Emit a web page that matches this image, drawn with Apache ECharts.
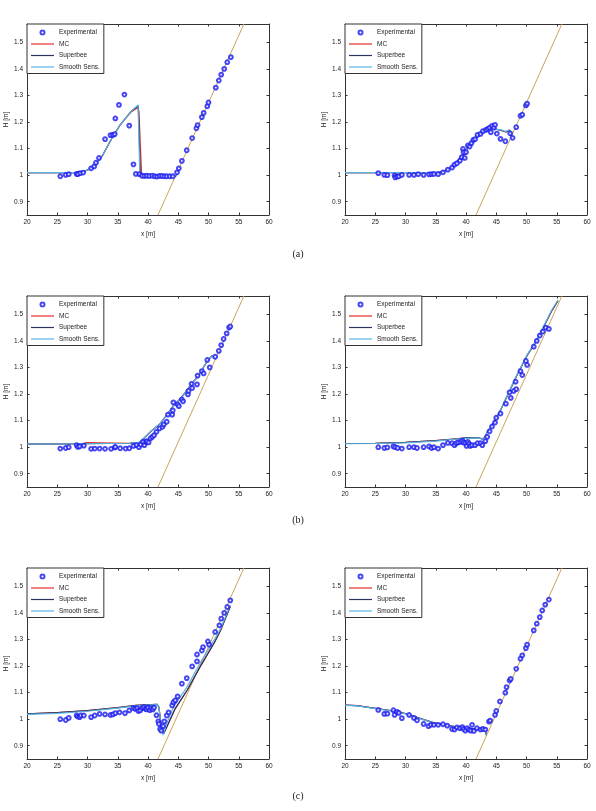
<!DOCTYPE html>
<html>
<head>
<meta charset="utf-8">
<script src="https://cdn.jsdelivr.net/npm/echarts@6/dist/echarts.min.js"></script>
<style>
  html, body { margin: 0; padding: 0; background: #fff; }
  #chart { width: 596px; height: 811px; }
</style>
</head>
<body>
<div id="chart"></div>
<script>
// tick values
const xTicks = [20, 25, 30, 35, 40, 45, 50, 55, 60]
const yTicks = [0.9, 1, 1.1, 1.2, 1.3, 1.4, 1.5]
const captions = ['(a)', '(b)', '(c)']

// beach slope (same in every panel)
const beach = [[41.65, 0.85], [55.85, 1.57]]

// panel (a) left
const expA1 = [[25.5,0.996],[26.4,1.001],[26.9,1.004],[28.2,1.005],[28.4,1.004],[28.8,1.008],[29.3,1.01],[30.6,1.026],[31.1,1.033],[31.4,1.047],[31.9,1.065],[32.9,1.136],[33.8,1.151],[34.2,1.152],[34.5,1.155],[34.6,1.214],[35.2,1.265],[36.1,1.304],[36.9,1.187],[37.6,1.041],[38.0,1.005],[38.6,1.004],[39.0,0.998],[39.4,0.997],[39.8,0.998],[40.2,0.997],[40.7,0.998],[41.1,0.996],[41.5,0.995],[41.9,0.997],[42.3,0.997],[42.7,0.996],[43.1,0.996],[43.6,0.996],[44.1,0.996],[44.8,1.011],[45.1,1.026],[45.6,1.054],[46.4,1.094],[47.3,1.14],[48.0,1.177],[48.2,1.189],[48.9,1.219],[49.2,1.235],[49.8,1.26],[50.0,1.274],[51.2,1.33],[51.7,1.357],[52.1,1.379],[52.6,1.401],[53.1,1.426],[53.7,1.445]]
const mcA1 = [[20,1.01],[28,1.01],[29.5,1.015],[30.5,1.025],[31.5,1.045],[32.5,1.075],[33.8,1.13],[35.4,1.19],[37.1,1.236],[38.3,1.255],[38.5,1.24],[38.95,1.0],[39.2,0.997],[44.6,0.997],[44.8,1.005]]
const sbA1 = [[20,1.01],[28,1.01],[29.5,1.015],[30.5,1.025],[31.5,1.045],[32.5,1.075],[33.8,1.13],[35.4,1.19],[37.1,1.238],[38.4,1.262],[38.75,1.0],[39.2,0.997],[44.6,0.997],[44.8,1.005]]
const smA1 = [[20,1.01],[28,1.01],[29.5,1.015],[30.5,1.025],[31.5,1.045],[32.5,1.075],[33.8,1.13],[35.4,1.19],[37.1,1.238],[38.35,1.265],[38.65,1.0],[39.2,0.997],[44.6,0.997],[44.8,1.005]]

// panel (a) right
const expA2 = [[25.5,1.008],[26.5,1.001],[27.0,1.0],[28.2,0.999],[28.3,0.992],[28.6,0.995],[28.9,0.996],[29.4,1.001],[30.6,1.001],[31.4,1.001],[32.1,1.004],[33.0,1.001],[33.9,1.003],[34.3,1.004],[34.7,1.005],[35.4,1.004],[36.2,1.011],[37.0,1.021],[37.7,1.029],[38.1,1.04],[38.5,1.045],[39.0,1.055],[39.3,1.068],[39.5,1.099],[39.6,1.087],[39.8,1.065],[40.0,1.087],[40.3,1.112],[40.6,1.108],[40.9,1.121],[41.2,1.133],[41.5,1.136],[41.9,1.152],[42.4,1.156],[42.8,1.166],[43.3,1.171],[43.6,1.175],[43.9,1.179],[44.1,1.162],[44.3,1.186],[44.6,1.179],[44.8,1.19],[45.1,1.157],[45.7,1.137],[46.5,1.128],[47.3,1.158],[47.7,1.141],[48.3,1.181],[49.0,1.224],[49.3,1.228],[49.9,1.263],[50.1,1.27]]
const mcA2 = [[20,1.01],[35,1.01],[36,1.013],[36.9,1.019],[37.7,1.031],[38.5,1.05],[39.4,1.073],[40.2,1.1],[41.3,1.132],[42.6,1.163],[44.0,1.178],[45.7,1.17],[46.6,1.163],[47.2,1.17],[47.5,1.15]]
const smA2 = [[20,1.01],[35,1.01],[36,1.013],[36.9,1.018],[37.7,1.03],[38.5,1.049],[39.4,1.072],[40.2,1.099],[41.3,1.131],[42.6,1.162],[44.0,1.175],[45.7,1.172],[46.5,1.165],[47.1,1.169],[47.5,1.15]]

// panel (b) left
const expB1 = [[25.5,0.995],[26.4,0.997],[26.9,1.0],[28.2,1.008],[28.4,1.001],[28.7,1.003],[29.4,1.006],[30.6,0.994],[31.2,0.995],[32.0,0.995],[32.9,0.994],[33.9,0.994],[34.5,0.999],[34.6,1.001],[35.4,0.996],[36.3,0.995],[36.9,0.996],[37.6,1.005],[38.1,1.008],[38.5,1.0],[38.8,1.01],[39.2,1.02],[39.4,1.008],[39.7,1.02],[39.8,1.023],[40.1,1.018],[40.4,1.033],[40.7,1.039],[41.0,1.045],[41.4,1.058],[41.9,1.071],[42.4,1.077],[42.6,1.086],[43.1,1.096],[43.3,1.123],[44.0,1.123],[44.1,1.139],[44.2,1.169],[44.9,1.161],[45.1,1.155],[45.6,1.18],[45.8,1.173],[46.6,1.199],[46.7,1.212],[47.2,1.239],[47.3,1.223],[48.1,1.237],[48.2,1.27],[48.9,1.287],[49.2,1.278],[49.8,1.329],[50.2,1.301],[51.1,1.341],[51.7,1.363],[52.1,1.385],[52.5,1.408],[53.0,1.429],[53.4,1.451],[53.6,1.455]]
const mcB1 = [[20,1.012],[29.2,1.013],[29.4,1.017],[29.7,1.017],[29.9,1.013],[30,1.013],[37,1.015],[38.5,1.018],[39.3,1.033],[40.4,1.058],[42.0,1.089],[43.1,1.121],[44.2,1.156],[45.6,1.19],[47.0,1.232],[48.4,1.272],[49.8,1.325],[50.6,1.345],[51.0,1.335],[51.3,1.339]]
const sbB1 = [[20,1.012],[29.2,1.013],[30,1.013],[37,1.015],[38.5,1.018],[39.3,1.033],[40.4,1.058],[42.0,1.089],[43.1,1.121],[44.2,1.156],[45.6,1.19],[47.0,1.232],[48.4,1.272],[49.8,1.325],[50.6,1.345],[51.0,1.335],[51.3,1.339]]
const smB1 = [[20,1.012],[29.2,1.013],[30,1.013],[37,1.015],[38.5,1.018],[39.3,1.033],[40.4,1.058],[42.0,1.089],[43.1,1.121],[44.2,1.156],[45.6,1.19],[47.0,1.232],[48.4,1.272],[49.8,1.325],[50.6,1.345],[51.0,1.335],[51.3,1.339]]

// panel (b) right
const expB2 = [[25.5,1.0],[26.5,0.997],[27.0,0.999],[28.0,1.003],[28.3,1.0],[28.7,0.997],[29.4,0.995],[30.6,1.0],[31.4,1.0],[31.9,0.997],[33.0,1.0],[33.9,1.003],[34.3,0.997],[34.7,1.0],[35.4,0.995],[36.2,1.008],[37.0,1.016],[37.7,1.015],[38.1,1.008],[38.4,1.015],[38.7,1.018],[39.1,1.02],[39.4,1.025],[39.6,1.018],[39.9,1.015],[40.1,1.005],[40.3,1.02],[40.5,1.013],[40.7,1.005],[41.0,1.008],[41.5,1.008],[41.9,1.015],[42.4,1.015],[42.7,1.008],[43.2,1.023],[43.5,1.039],[43.9,1.06],[44.3,1.078],[44.8,1.093],[45.0,1.111],[45.7,1.127],[46.6,1.164],[47.2,1.207],[47.4,1.186],[47.9,1.212],[48.2,1.247],[48.3,1.219],[49.0,1.287],[49.3,1.272],[49.9,1.325],[50.1,1.31],[51.2,1.379],[51.7,1.401],[52.2,1.421],[52.7,1.436],[53.2,1.451],[53.7,1.446]]
const mcB2 = [[20,1.014],[25,1.015],[30,1.018],[35,1.025],[38,1.031],[40,1.035],[42,1.036],[42.7,1.031],[43.2,1.04],[43.5,1.057],[44.3,1.082],[45.7,1.139],[47.1,1.207],[48.4,1.27],[50.1,1.346],[51.5,1.396],[52.8,1.452],[54.2,1.515],[55.2,1.552]]
const smB2 = [[20,1.013],[25,1.014],[30,1.016],[35,1.023],[38,1.03],[40,1.033],[42,1.035],[42.7,1.03],[43.2,1.04],[43.5,1.058],[44.3,1.083],[45.7,1.14],[47.1,1.209],[48.4,1.272],[50.1,1.348],[51.5,1.398],[52.8,1.455],[54.2,1.518],[55.2,1.555]]

// panel (c) left
const expC1 = [[25.5,1.0],[26.4,0.997],[26.9,1.005],[28.2,1.014],[28.4,1.01],[28.7,1.008],[28.9,1.014],[29.4,1.014],[30.6,1.008],[31.2,1.014],[32.0,1.02],[32.9,1.018],[33.8,1.016],[34.2,1.018],[34.6,1.023],[35.3,1.026],[36.2,1.023],[36.9,1.033],[37.6,1.042],[37.9,1.039],[38.2,1.042],[38.4,1.031],[38.7,1.033],[39.0,1.042],[39.3,1.045],[39.6,1.039],[39.8,1.037],[40.0,1.044],[40.3,1.034],[40.5,1.042],[40.8,1.037],[41.0,1.044],[41.4,1.015],[41.7,0.992],[41.8,0.982],[42.0,0.963],[42.2,0.957],[42.5,0.974],[42.7,0.992],[43.1,1.014],[43.4,1.026],[44.0,1.052],[44.2,1.064],[44.5,1.071],[44.9,1.086],[45.6,1.134],[46.4,1.155],[47.3,1.199],[48.1,1.218],[48.1,1.244],[48.9,1.259],[49.1,1.272],[49.9,1.293],[50.1,1.281],[51.1,1.329],[51.8,1.354],[52.1,1.379],[52.6,1.401],[53.1,1.423],[53.6,1.448]]
const mcC1 = [[20,1.02],[25,1.025],[30,1.032],[35,1.044],[38,1.052],[41.5,1.056],[41.8,1.046],[42.1,0.99],[42.6,0.945],[43.5,0.99],[44.5,1.04],[46.5,1.11],[48.8,1.205],[51,1.29],[52,1.335],[53.6,1.425]]
const smC1 = [[20,1.018],[25,1.022],[30,1.03],[35,1.042],[38,1.05],[41.5,1.055],[41.8,1.045],[42.1,0.99],[42.5,0.94],[43.2,0.99],[44.2,1.045],[46.4,1.12],[48.7,1.215],[50.9,1.297],[52.0,1.341],[53.6,1.43]]

// panel (c) right
const expC2 = [[25.5,1.035],[26.5,1.02],[27.0,1.021],[28.0,1.034],[28.2,1.016],[28.6,1.028],[28.9,1.024],[29.4,1.004],[30.6,1.016],[31.4,1.005],[31.9,0.996],[33.0,0.982],[33.8,0.974],[34.2,0.979],[34.7,0.979],[35.4,0.979],[36.2,0.981],[36.9,0.976],[37.7,0.963],[38.1,0.961],[38.5,0.969],[39.0,0.966],[39.4,0.97],[39.6,0.963],[39.9,0.957],[40.2,0.966],[40.5,0.961],[40.8,0.957],[41.0,0.979],[41.3,0.956],[41.8,0.966],[42.4,0.961],[42.8,0.963],[43.2,0.961],[43.8,0.991],[44.0,0.995],[44.8,1.016],[45.0,1.031],[45.6,1.067],[46.5,1.1],[46.7,1.121],[47.2,1.146],[47.4,1.152],[48.3,1.19],[49.0,1.228],[49.3,1.241],[49.9,1.268],[50.1,1.281],[51.2,1.335],[51.7,1.36],[52.2,1.385],[52.6,1.41],[53.1,1.432],[53.7,1.451]]
const mcC2 = [[20,1.053],[22,1.051],[25,1.041],[28,1.031],[30,1.021],[32,1.006],[34.7,0.986],[37.4,0.975],[40.2,0.965],[42.4,0.962],[43.2,0.964],[43.35,0.94]]
const smC2 = [[20,1.052],[22,1.05],[25,1.04],[28,1.03],[30,1.02],[32,1.005],[34.7,0.985],[37.4,0.974],[40.2,0.964],[42.4,0.961],[43.2,0.963],[43.35,0.94]]

const panels = [
  { exp: expA1, mc: mcA1, sb: sbA1, sm: smA1 },
  { exp: expA2, mc: mcA2, sb: mcA2, sm: smA2 },
  { exp: expB1, mc: mcB1, sb: sbB1, sm: smB1 },
  { exp: expB2, mc: mcB2, sb: mcB2, sm: smB2 },
  { exp: expC1, mc: mcC1, sb: mcC1, sm: smC1 },
  { exp: expC2, mc: mcC2, sb: mcC2, sm: smC2 }
]

const gridLefts = [27, 345]
const gridTops = [24, 296, 568]
const font = 'Liberation Sans, Arial, sans-serif'
const axisColor = '#333'
const lineIcon = 'path://M0,0H23V1.2H0Z' // flat line for the legend

let grids = [], xAxes = [], yAxes = [], series = [], legends = []

panels.forEach((p, i) => {
  let left = gridLefts[i % 2]
  let top = gridTops[Math.floor(i / 2)]
  grids.push({ left: left, top: top, width: 242, height: 191, show: false })

  let labelStyle = { fontSize: 6.5, color: '#222', fontFamily: font }
  // bottom / top x axes
  xAxes.push({
    gridIndex: i, type: 'value', min: 20, max: 60, interval: 5,
    name: 'x [m]', nameLocation: 'middle', nameGap: 16,
    nameTextStyle: { fontSize: 6.5, color: '#222', fontFamily: font },
    axisLine: { lineStyle: { color: axisColor, width: 1 } },
    axisTick: { inside: true, length: 2.5, lineStyle: { color: axisColor } },
    axisLabel: Object.assign({ margin: 4 }, labelStyle),
    splitLine: { show: false }
  })
  xAxes.push({
    gridIndex: i, type: 'value', min: 20, max: 60, interval: 5, position: 'top',
    axisLine: { lineStyle: { color: axisColor, width: 1 } },
    axisTick: { inside: true, length: 2.5, lineStyle: { color: axisColor } },
    axisLabel: { show: false }, splitLine: { show: false }
  })
  // left / right y axes
  yAxes.push({
    gridIndex: i, type: 'value', min: 0.85, max: 1.57,
    name: 'H [m]', nameLocation: 'middle', nameGap: 12,
    nameTextStyle: { fontSize: 6.5, color: '#222', fontFamily: font },
    axisLine: { show: true, lineStyle: { color: axisColor, width: 1 } },
    axisTick: { inside: true, length: 2.5, customValues: yTicks, lineStyle: { color: axisColor } },
    axisLabel: Object.assign({ margin: 4, customValues: yTicks }, labelStyle),
    splitLine: { show: false }
  })
  yAxes.push({
    gridIndex: i, type: 'value', min: 0.85, max: 1.57, position: 'right',
    axisLine: { show: true, lineStyle: { color: axisColor, width: 1 } },
    axisTick: { inside: true, length: 2.5, customValues: yTicks, lineStyle: { color: axisColor } },
    axisLabel: { show: false }, splitLine: { show: false }
  })

  let ax = { xAxisIndex: 2 * i, yAxisIndex: 2 * i }
  series.push(Object.assign({
    type: 'line', name: 'Beach', data: beach, symbol: 'none', silent: true, z: 1,
    lineStyle: { color: '#C9A456', width: 1 }
  }, ax))
  series.push(Object.assign({
    type: 'line', name: 'MC', data: p.mc, symbol: 'none', z: 2,
    itemStyle: { color: '#E5302A' }, lineStyle: { color: '#E5302A', width: 1.2 }
  }, ax))
  series.push(Object.assign({
    type: 'line', name: 'Superbee', data: p.sb, symbol: 'none', z: 3,
    itemStyle: { color: '#2A3660' }, lineStyle: { color: '#2A3660', width: 1.2 }
  }, ax))
  series.push(Object.assign({
    type: 'line', name: 'Smooth Sens.', data: p.sm, symbol: 'none', z: 4,
    itemStyle: { color: '#58B4E4' }, lineStyle: { color: '#58B4E4', width: 1.2 }
  }, ax))
  series.push(Object.assign({
    type: 'scatter', name: 'Experimental', data: p.exp, symbol: 'emptyCircle', symbolSize: 3.8, z: 5,
    itemStyle: { color: '#1a1af0', borderColor: '#1a1af0', borderWidth: 0.75 }
  }, ax))

  legends.push({
    left: left, top: top, orient: 'vertical',
    backgroundColor: '#fff', borderColor: axisColor, borderWidth: 1,
    padding: [5, 4, 3, 4], itemWidth: 23, itemHeight: 4, itemGap: 4.5, itemTextGap: 3,
    textStyle: { fontSize: 6.5, color: '#222', fontFamily: font, lineHeight: 7 },
    data: [
      { name: 'Experimental', icon: 'emptyCircle' },
      { name: 'MC', icon: lineIcon },
      { name: 'Superbee', icon: lineIcon },
      { name: 'Smooth Sens.', icon: lineIcon }
    ]
  })
})

let graphics = captions.map((c, k) => ({
  type: 'text', left: 'center', top: [249, 515, 791][k],
  style: { text: c, fontSize: 10, fill: '#222', fontFamily: 'Liberation Serif, DejaVu Serif, serif' }
}))

let myChart = echarts.init(document.getElementById('chart'))
myChart.setOption({
  animation: false,
  backgroundColor: '#fff',
  grid: grids,
  xAxis: xAxes,
  yAxis: yAxes,
  legend: legends,
  graphic: graphics,
  series: series
})
</script>
</body>
</html>
